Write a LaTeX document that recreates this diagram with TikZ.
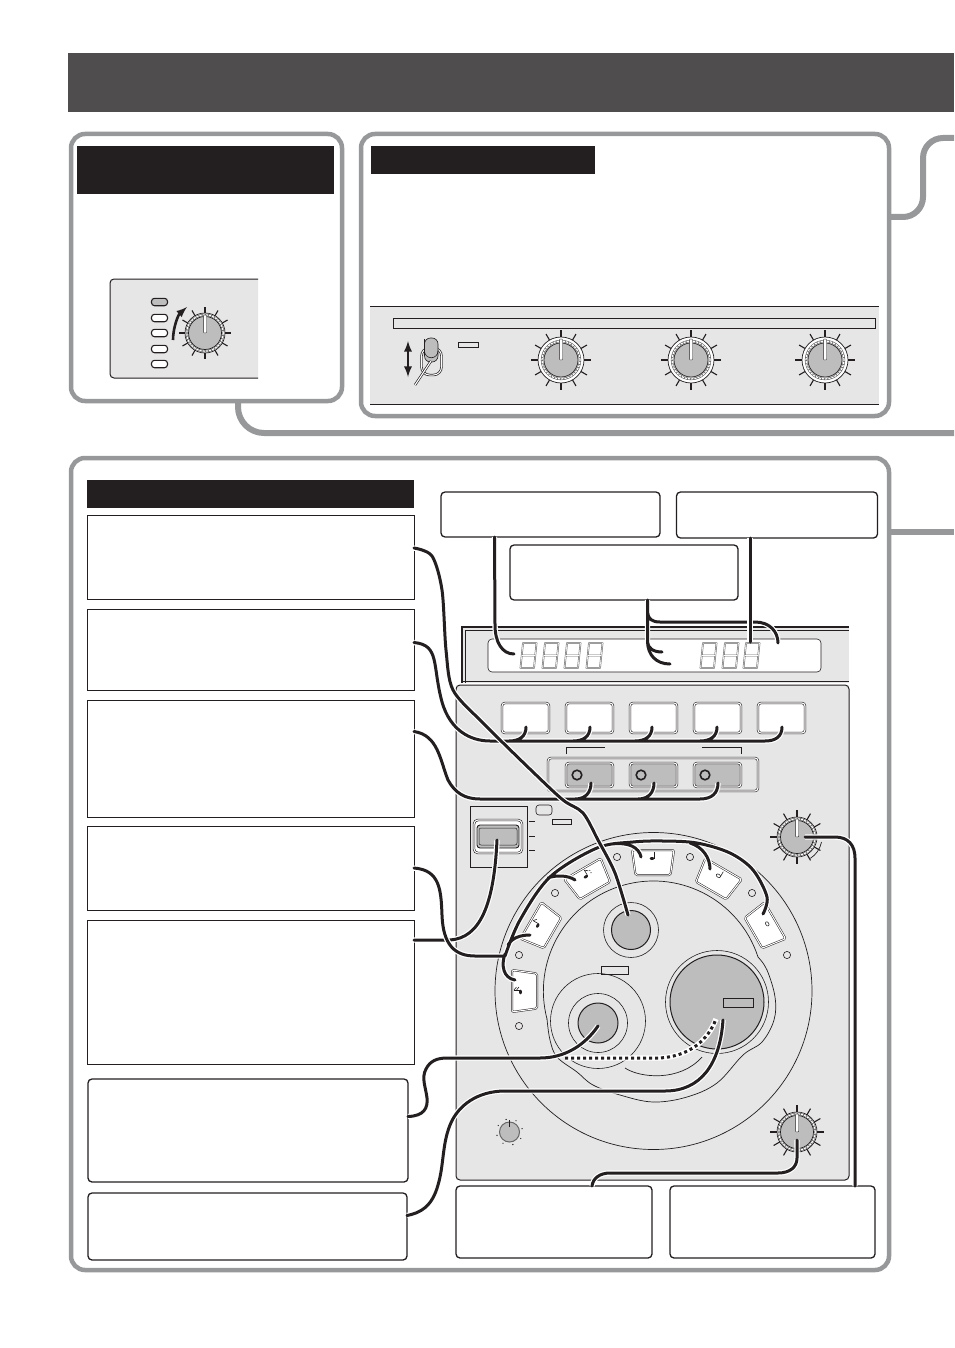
\documentclass[tikz,border=0pt]{standalone}
\definecolor{frameg}{HTML}{97989A}
\definecolor{panelg}{HTML}{E6E6E6}
\definecolor{knobg}{HTML}{BDBDBD}
\definecolor{inkk}{HTML}{231F20}
\definecolor{bannerg}{HTML}{4F4D4D}
\tikzset{
  frame/.style={draw=frameg,line width=4.5pt,rounded corners=14pt,fill=white},
  link/.style={draw=frameg,line width=6pt},
  blackbar/.style={fill=inkk,draw=none},
  panel/.style={fill=panelg,draw=inkk,line width=1pt},
  textbox/.style={draw=inkk,line width=1pt,fill=white,inner sep=0pt,outer sep=0pt},
  callout/.style={textbox,rounded corners=4pt,line width=1.3pt},
  wire/.style={draw=inkk,line width=3pt,line cap=round,preaction={draw=white,line width=5.4pt,line cap=butt}},
  dbl/.style={draw=inkk,line width=0.6pt,double=white,double distance=1.1pt},
}
\newcommand{\dialknob}[6]{%x,y,ring radius,tick end,dash radius,grey radius
  \begin{scope}[shift={(#1,#2)}]
    \foreach \a in {0,30,...,330}{\draw[inkk,line width=1.1pt] (\a:#3pt-1pt) -- (\a:#4pt);}
    \fill[white,draw=inkk,line width=0.7pt] (0,0) circle (#3pt);
    \draw[black!60,line width=2.3pt] (0,0) circle (#5pt);
    \draw[white,line width=1.2pt,dash pattern=on 2.2pt off 1pt] (0,0) circle (#5pt);
    \fill[knobg,draw=inkk,line width=0.7pt] (0,0) circle (#6pt);
    \fill[white,draw=inkk,line width=0.4pt,rounded corners=1pt] (-1.7pt,0) -- (-1.7pt,#3pt-2pt) -- (1.7pt,#3pt-2pt) -- (1.7pt,0) -- cycle;
  \end{scope}}
\newcommand{\padkey}[2]{%rotation, note drawing
  \begin{scope}[shift={(653,991)},rotate=-#1]
    \draw[inkk,line width=0.5pt,double=white,double distance=1pt,fill=white,line join=round,rounded corners=1.5pt]
      (-21,-141) -- (21,-141) -- (17.5,-116) -- (-17.5,-116) -- cycle;
    #2
  \end{scope}}
\newcommand{\blacknote}{\fill[inkk] (-1,-132.5) ellipse (2.3pt and 1.5pt); \draw[inkk,line width=0.6pt] (1,-132.5) -- (1,-139);}
\newcommand{\opennote}{\draw[inkk,line width=0.6pt] (-1,-132.5) ellipse (2.3pt and 1.6pt);}
\newcommand{\segdigit}[2]{%x,y top-left
  \begin{scope}[shift={(#1,#2)}]
    \draw[black!60,line width=1.7pt,line join=round] (3,0) -- (16.5,0) -- (14,25) -- (0.5,25) -- cycle (1.8,12.5) -- (15.2,12.5);
    \draw[white,line width=0.6pt] (3,0) -- (16.5,0) -- (14,25) -- (0.5,25) -- cycle (1.8,12.5) -- (15.2,12.5);
  \end{scope}}
\begin{document}
\begin{tikzpicture}[x=1pt,y=-1pt]
\useasboundingbox (0,0) rectangle (954,1348);
\fill[white] (0,0) rectangle (954,1348);
% banner
\fill[bannerg] (68,53) rectangle (954,112);
% grey links
\draw[link,rounded corners=26pt] (238,395) -- (238,433) -- (954,433);
\draw[link,rounded corners=20pt] (885,217) -- (923,217) -- (923,138) -- (954,138);
\draw[link] (885,532) -- (954,532);
% panel 1
\draw[frame] (71,134) rectangle (342,401);
\fill[blackbar] (77,146) rectangle (334,194);
\path[fill=panelg] (258,279) -- (114,279) arc[start angle=90,end angle=180,radius=4pt] -- (110,374) arc[start angle=180,end angle=270,radius=4pt] -- (258,378) -- cycle;
\draw[inkk,line width=1pt] (258,279) -- (114,279) arc[start angle=90,end angle=180,radius=4pt] -- (110,374) arc[start angle=180,end angle=270,radius=4pt] -- (258,378);
\foreach \y/\c in {302/knobg,318/white,333/white,349/white,364/white}{
  \draw[inkk,line width=1.1pt,fill=\c,rounded corners=3pt] (151.5,\y-3.7) rectangle (167.5,\y+3.7);}
\draw[inkk,line width=2.6pt,-latex] (173,340) .. controls (173,328) and (178,315) .. (187,307);
\dialknob{205}{333}{20}{26}{18.2}{16.5}
% panel 2
\draw[frame] (361,134) rectangle (889,416);
\fill[blackbar] (371,146) rectangle (595,174);
\fill[panelg] (370,306) rectangle (879,404);
\draw[inkk,line width=1pt] (370,306) -- (879,306) (370,404) -- (879,404);
\draw[inkk,line width=0.8pt,fill=panelg] (393,318) rectangle (875,328);
\draw[inkk,line width=2.6pt,latex-latex] (408,341) -- (408,377);
\draw[inkk,line width=0.7pt,double=white,double distance=1pt,fill=panelg,rounded corners=8pt] (421.5,348) rectangle (441.5,375);
\fill[knobg,draw=inkk,line width=0.6pt,rounded corners=6pt] (424.5,345) -- (424.5,338) -- (438,338) -- (438,362) -- (424.5,362) -- cycle;
\draw[inkk,line width=0.6pt] (424.5,351) arc[start angle=180,end angle=360,radius=6.75pt];
\draw[inkk,line width=2.4pt] (431,361) -- (415,385);
\draw[white,line width=1.1pt] (431,361) -- (415,385);
\draw[inkk,line width=0.8pt] (458,342) rectangle (478,347);
\dialknob{561}{360}{23}{30}{19}{17}
\dialknob{691}{360}{23}{30}{19}{17}
\dialknob{825}{360}{23}{30}{19}{17}
% panel 3
\draw[frame] (71,458) rectangle (889,1270);
\fill[blackbar] (87,480) rectangle (414,508);
\node[textbox,minimum width=327pt,minimum height=84pt] (b1) at (250.5,557) {};
\node[textbox,minimum width=327pt,minimum height=81pt] (b2) at (250.5,649.5) {};
\node[textbox,minimum width=327pt,minimum height=117pt] (b3) at (250.5,758.5) {};
\node[textbox,minimum width=327pt,minimum height=84pt] (b4) at (250.5,868) {};
\node[textbox,minimum width=327pt,minimum height=144pt] (b5) at (250.5,992) {};
\node[callout,minimum width=320pt,minimum height=103pt] (b6) at (248,1130.5) {};
\node[callout,minimum width=319pt,minimum height=67pt] (b7) at (247.5,1226.5) {};
\node[callout,minimum width=196pt,minimum height=72pt] (b8) at (554,1222) {};
\node[callout,minimum width=205pt,minimum height=72pt] (b9) at (772.5,1222) {};
\node[callout,minimum width=219pt,minimum height=45pt] (t1) at (550.5,514.5) {};
\node[callout,minimum width=201pt,minimum height=46pt] (t2) at (777,515) {};
\node[callout,minimum width=228pt,minimum height=55pt] (t3) at (624,572.5) {};
% display section
\fill[panelg] (462,627) rectangle (849,683);
\draw[inkk,line width=1.1pt] (462,683) -- (462,627) -- (849,627);
\draw[inkk,line width=0.6pt] (465,683) -- (465,630.5) -- (849,630.5);
\draw[inkk,line width=0.6pt] (462,681) -- (849,681);
\draw[inkk,line width=0.6pt,fill=white,rounded corners=4pt] (488,639) rectangle (821,672);
\foreach \x in {520,542,564,586,700,722,743}{\segdigit{\x}{643}}
% main panel
\path[panel,rounded corners=4pt] (849,685) -- (456,685) -- (456,1180) -- (849,1180) -- cycle;
\foreach \x in {502,566,630,694,758}{
  \draw[dbl,fill=white,rounded corners=3pt] (\x,703) rectangle (\x+47,733);}
\draw[inkk,line width=0.7pt] (566,754) -- (566,747) -- (605,747);
\draw[inkk,line width=0.7pt] (702,747) -- (741,747) -- (741,754);
\draw[dbl,fill=panelg,rounded corners=3pt] (548,758) rectangle (758,791);
\foreach \x in {566,630,694}{
  \draw[dbl,fill=knobg,rounded corners=3pt] (\x,763) rectangle (\x+47,787);
  \draw[inkk,line width=1.6pt,fill=knobg] (\x+11,775) circle (4.8pt);}
% left block
\draw[inkk,line width=0.7pt] (470,806) rectangle (527,867);
\draw[dbl,fill=white,rounded corners=4pt] (474,820) rectangle (522,853);
\draw[inkk,line width=0.9pt,fill=knobg,rounded corners=3pt] (477,825) rectangle (519,848);
\draw[inkk,line width=0.5pt,rounded corners=2pt] (479,828) rectangle (517,845);
\foreach \y in {821,836,850}{\draw[inkk,line width=0.6pt] (529,\y) -- (535,\y);}
\draw[inkk,line width=0.6pt,fill=panelg,rounded corners=3pt] (536,805) rectangle (552,815);
\draw[inkk,line width=0.7pt] (552,819) rectangle (571,824);
% disc
\draw[inkk,line width=0.7pt] (653.5,991) circle (158.5pt);
\draw[inkk,line width=0.7pt] (758,957) arc[start angle=18,end angle=195,radius=110pt];
\draw[inkk,line width=0.7pt] plot[smooth,tension=.6] coordinates {
 (547,1019) (550,1040) (557,1057) (577,1072) (593,1085) (620,1095) (653,1102) (687,1097) (717,1083) (743,1055) (762,1042) (774,1020) (775,997) (767,970) (758,957)};
\draw[inkk,line width=0.7pt] (625,1068) .. controls (640,1078) and (680,1082) .. (702,1057);
\padkey{0}{\blacknote}
\padkey{30}{\opennote\draw[inkk,line width=0.6pt] (1.2,-132.5) -- (1.2,-138.5);}
\padkey{60}{\opennote}
\padkey{-30}{\blacknote\draw[inkk,line width=0.6pt] (1,-139) -- (4,-136.5); \fill[inkk] (5.5,-133.5) circle (0.6pt) (5.5,-136) circle (0.6pt);}
\padkey{-60}{\blacknote\draw[inkk,line width=0.6pt] (1,-139) -- (4,-136.5);}
\padkey{-90}{\blacknote\draw[inkk,line width=0.6pt] (1,-139) -- (4,-136.5) (1,-136.5) -- (4,-134);}
\foreach \x/\y in {617/857,690/857,555/893,752/893,519/955,787/955,519/1026}{
  \draw[inkk,line width=0.6pt,fill=panelg] (\x,\y) circle (3.6pt);}
\draw[inkk,line width=0.6pt] (631,930) circle (27.5pt);
\fill[knobg,draw=inkk,line width=1pt] (631,930) circle (19.5pt);
\draw[inkk,line width=0.6pt] (598,1021) circle (47.5pt) (598,1023) circle (29.5pt);
\fill[knobg,draw=inkk,line width=1pt] (598,1023) circle (20pt);
\draw[inkk,line width=0.6pt] (717,1002) circle (51.5pt);
\fill[knobg,draw=inkk,line width=1pt] (717,1002) circle (47pt);
\draw[inkk,line width=0.7pt] (723,998) rectangle (753,1007);
\draw[inkk,line width=0.7pt] (601,966) rectangle (628,974);
\dialknob{797}{837}{20}{27}{18.2}{16.5}
\dialknob{797}{1132}{20}{27}{18.2}{16.5}
\draw[inkk,line width=0.7pt] (821.5,842) arc[start angle=-11,end angle=-58,radius=25pt];
\begin{scope}[shift={(509.5,1132)}]
  \foreach \a in {0,45,...,315}{\fill[inkk] (\a+15:13pt) circle (0.7pt);}
  \fill[knobg,draw=black!60,line width=1pt] (0,0) circle (10pt);
  \draw[inkk,line width=1.4pt] (0,-5) -- (0,-12);
\end{scope}
% anchors of connectors
\coordinate (w1s) at ([yshift=9pt]b1.east);
\coordinate (w2s) at ([yshift=7pt]b2.east);
\coordinate (w3s) at ([yshift=27pt]b3.east);
\coordinate (w4s) at (b4.east);
\coordinate (w5s) at ([yshift=52pt]b5.east);
\coordinate (w6s) at ([yshift=14pt]b6.east);
\coordinate (w7s) at ([yshift=11pt]b7.east);
\coordinate (w8e) at ([xshift=82.5pt]b9.north);
\coordinate (w9e) at ([xshift=38pt]b8.north);
\coordinate (w10s) at ([xshift=-56pt]t1.south);
\coordinate (w11s) at ([xshift=23.5pt]t3.south);
\coordinate (w12s) at ([xshift=-27pt]t2.south);
\coordinate (kTop) at (628,915);
\coordinate (kLeft) at (598,1026);
\coordinate (kBig) at (723,1020);
\coordinate (kBigD) at (716,1019);
\coordinate (kTR) at (805,837);
\coordinate (kBR) at (797,1140);
% connectors
\draw[wire] (w2s) .. controls (440,645) and (432,665) .. (442,702) .. controls (450,730) and (470,741) .. (490,741) -- (765,741) .. controls (775,741) and (782,737) .. (782,727)
  (526,727) .. controls (526,736) and (520,741) .. (509,741)
  (590,727) .. controls (590,736) and (584,741) .. (573,741)
  (652,727) .. controls (652,736) and (646,741) .. (635,741)
  (717,727) .. controls (717,736) and (711,741) .. (700,741);
\draw[wire] (w3s) .. controls (438,735) and (440,760) .. (448,780) .. controls (455,793) and (465,799) .. (480,799) -- (700,799) .. controls (712,799) and (718,793) .. (718,783)
  (591,783) .. controls (591,792) and (586,799) .. (575,799)
  (654,783) .. controls (654,792) and (649,799) .. (638,799);
\draw[wire] (w5s) -- (450,940) .. controls (480,938) and (494,905) .. (497,840);
\draw[wire] (w4s) .. controls (440,870) and (441,890) .. (442,915) .. controls (443,945) and (455,956) .. (475,956) -- (505,956)
  plot[smooth,tension=.55] coordinates {(505,956) (520,920) (550,877) (597,848) (633,842) (663,841) (697,843) (730,853) (753,870) (767,897) (763,914)}
  (505,954) .. controls (501,965) and (503,978) .. (515,980)
  (508,945) .. controls (512,938) and (520,935) .. (530,935)
  (548,878) .. controls (555,875) and (568,875) .. (575,880)
  (612,844) .. controls (628,842) and (639,847) .. (641,857)
  (690,843) .. controls (703,847) and (710,858) .. (710,869);
\draw[wire] plot[smooth,tension=.5] coordinates {(w1s) (432,556) (442,590) (446,650) (453,690) (483,723) (533,772) (563,800) (583,813) (598,840) (615,873) (kTop)};
\draw[draw=white,line width=5.4pt] (565,1058) -- (660,1058) .. controls (690,1056) and (708,1040) .. (kBigD);
\draw[inkk,line width=3pt,dash pattern=on 3pt off 3pt] (565,1058) -- (660,1058) .. controls (690,1056) and (708,1040) .. (kBigD);
\draw[wire] (w6s) .. controls (424,1116) and (428,1108) .. (427,1098) .. controls (426,1088) and (421,1078) .. (426,1069) .. controls (430,1061) and (437,1058) .. (447,1058) -- (540,1058) .. controls (565,1058) and (585,1045) .. (kLeft);
\draw[wire] (w7s) .. controls (420,1213) and (432,1207) .. (438,1185) .. controls (444,1165) and (442,1145) .. (450,1125) .. controls (458,1105) and (478,1091) .. (505,1091) -- (665,1091) .. controls (700,1091) and (720,1065) .. (kBig);
\draw[wire] (kTR) -- (835,837) .. controls (848,837) and (855,845) .. (855,858) -- (w8e);
\draw[wire] (kBR) -- (797,1158) .. controls (797,1167) and (790,1173) .. (778,1173) -- (610,1173) .. controls (600,1173) and (593,1178) .. (w9e);
\draw[wire] (w10s) -- (495,625) .. controls (495,642) and (502,654) .. (514,654);
\draw[wire] (w11s) -- (647.5,642) .. controls (648,655) and (656,664) .. (670,664)
  (647.5,642) .. controls (648,648) and (653,652) .. (662,652)
  (647.5,612) .. controls (648,619) and (652,622) .. (660,622) -- (755,622) .. controls (770,622) and (778,632) .. (778,643);
\draw[wire] (w12s) -- (750,642);
\end{tikzpicture}
\end{document}
